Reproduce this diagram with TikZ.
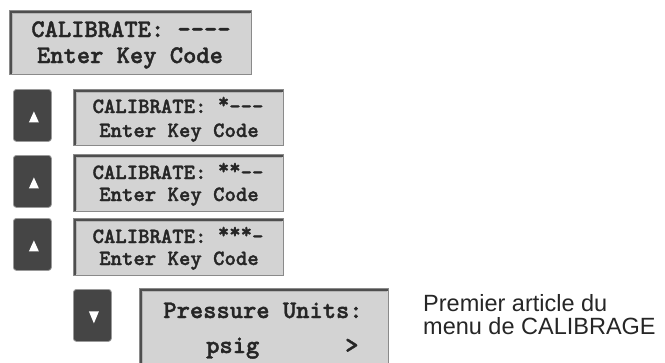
\documentclass[tikz,border=0pt]{standalone}
\usepackage{fontspec}
\setmainfont{Liberation Sans}
\newfontfamily\lcdfont{lmmonolt10-bold.otf}[FakeBold=1.6]
\newcommand{\st}{\raisebox{0.22em}{*}}
\definecolor{lcdfill}{HTML}{D3D3D3}
\definecolor{lcdedge}{HTML}{8A8A8A}
\definecolor{lcddark}{HTML}{4E4E4E}
\definecolor{lcdlight}{HTML}{B4B4B4}
\definecolor{keyfill}{HTML}{454545}
\definecolor{keyshadow}{HTML}{9A9A9A}
\tikzset{
  lcd/.style={draw=lcdedge, fill=lcdfill, line width=1.2pt, inner sep=0pt, anchor=north west},
  keybtn/.style={fill=keyfill, draw=keyshadow, line width=0.8pt, rounded corners=3pt, inner sep=0pt,
    minimum width=38pt, minimum height=52pt, anchor=north west},
  bigtxt/.style={font=\lcdfont\fontsize{25.3}{25}\selectfont, inner sep=0pt, text=black!85},
  midtxt/.style={font=\lcdfont\fontsize{21.7}{22}\selectfont, inner sep=0pt, text=black!85},
  note/.style={font=\fontsize{23.5}{23}\selectfont, inner sep=0pt, anchor=base west, text=black!85},
}
\newcommand{\bevel}[1]{%
  \draw[lcddark, line width=2pt] ([xshift=1.6pt,yshift=1.6pt]#1.south west) -- ([xshift=1.6pt,yshift=-1.6pt]#1.north west) -- ([xshift=-1.6pt,yshift=-1.6pt]#1.north east);
  \draw[lcdlight, line width=0.8pt] ([xshift=3.2pt,yshift=2.5pt]#1.south west) -- ([xshift=3.2pt,yshift=-3.2pt]#1.north west) -- ([xshift=-2.5pt,yshift=-3.2pt]#1.north east);
}
\newcommand{\uptri}[1]{%
  \fill[white] ([xshift=1.5pt,yshift=4pt]#1.center) -- ([xshift=-3.5pt,yshift=-7pt]#1.center) -- ([xshift=6.5pt,yshift=-7pt]#1.center) -- cycle;
}
\newcommand{\downtri}[1]{%
  \fill[white] ([xshift=1.5pt,yshift=-8pt]#1.center) -- ([xshift=-3.5pt,yshift=4pt]#1.center) -- ([xshift=6.5pt,yshift=4pt]#1.center) -- cycle;
}
\begin{document}
\begin{tikzpicture}[x=1pt,y=-1pt]
\useasboundingbox (0,0) rectangle (665,362);
\clip (0,0) rectangle (665,362);
\fill[white] (0,0) rectangle (665,362);

% top display
\node[lcd, minimum width=242pt, minimum height=64pt] (top) at (9,10) {};
\bevel{top}
\node[bigtxt, anchor=base] (topa) at (131,37) {CALIBRATE: ----};
\node[bigtxt, anchor=base] (topb) at (130,63) {Enter Key Code};

% key 1 + display 1
\node[keybtn] (k1) at (13,89) {};
\uptri{k1}
\node[lcd, minimum width=210pt, minimum height=56pt] (d1) at (73,89) {};
\bevel{d1}
\node[midtxt, anchor=base] (d1a) at (178,113) {CALIBRATE: \st---};
\node[midtxt, anchor=base] (d1b) at (179,137) {Enter Key Code};

% key 2 + display 2
\node[keybtn] (k2) at (13,155) {};
\uptri{k2}
\node[lcd, minimum width=210pt, minimum height=57pt] (d2) at (73,154) {};
\bevel{d2}
\node[midtxt, anchor=base] (d2a) at (178,179) {CALIBRATE: \st\st--};
\node[midtxt, anchor=base] (d2b) at (179,201) {Enter Key Code};

% key 3 + display 3
\node[keybtn] (k3) at (13,218) {};
\uptri{k3}
\node[lcd, minimum width=210pt, minimum height=57pt] (d3) at (73,218) {};
\bevel{d3}
\node[midtxt, anchor=base] (d3a) at (178,243) {CALIBRATE: \st\st\st-};
\node[midtxt, anchor=base] (d3b) at (179,265) {Enter Key Code};

% key 4 + pressure display
\node[keybtn] (k4) at (73,289) {};
\downtri{k4}
\node[lcd, minimum width=249pt, minimum height=85pt] (d4) at (139,288) {};
\bevel{d4}
\node[bigtxt, anchor=base] (d4a) at (263,318) {Pressure Units:};
\node[bigtxt, anchor=base west] (d4b) at (206,353) {psig};
\node[bigtxt, anchor=base west] (d4c) at (345,353) {>};

% note
\node[note] (n1) at (423,311) {Premier article du};
\node[note] (n2) at (423,334) {menu de CALIBRAGE};
\end{tikzpicture}
\end{document}
